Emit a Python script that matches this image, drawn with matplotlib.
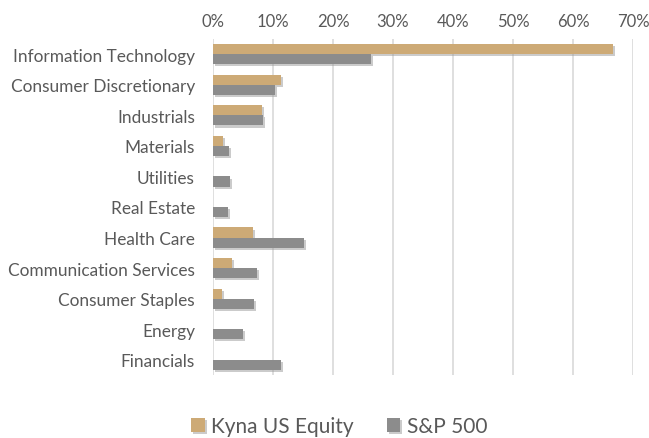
import numpy as np
import matplotlib.pyplot as plt
import matplotlib.patheffects as pe
from matplotlib.ticker import FuncFormatter

plt.rcParams['font.family'] = ['Lato', 'DejaVu Sans']

sectors = ["Information Technology", "Consumer Discretionary", "Industrials",
           "Materials", "Utilities", "Real Estate", "Health Care",
           "Communication Services", "Consumer Staples", "Energy", "Financials"]
kyna = [66.7, 11.4, 8.1, 1.6, 0.0, 0.0, 6.6, 3.2, 1.5, 0.0, 0.0]
sp500 = [26.3, 10.3, 8.3, 2.6, 2.9, 2.5, 15.1, 7.3, 6.9, 5.0, 11.4]

fig = plt.figure(figsize=(6.49, 4.39), dpi=100)
ax = fig.add_axes([213/649, 1-376/439, 420/649, 336/439])

y = np.arange(len(sectors))
h = 0.33
shadow = [pe.SimplePatchShadow(offset=(1.5, -1.5), shadow_rgbFace='#999999', alpha=0.5), pe.Normal()]
b1 = ax.barh(y - h/2, kyna, height=h, color='#CDAA76', label='Kyna US Equity', zorder=3)
b2 = ax.barh(y + h/2, sp500, height=h, color='#8C8C8C', label='S&P 500', zorder=3)
for b in list(b1) + list(b2):
    if b.get_width() > 0:
        b.set_path_effects(shadow)

ax.set_xlim(0, 70)
ax.set_ylim(len(sectors) - 0.5, -0.5)
ax.set_xticks(range(0, 71, 10))
ax.xaxis.set_major_formatter(FuncFormatter(lambda v, p: f"{v:.0f}%"))
ax.xaxis.tick_top()
ax.set_yticks(y)
ax.set_yticklabels(sectors)
ax.tick_params(axis='both', length=0, colors='#595959')
ax.tick_params(axis='x', pad=7, labelsize=12)
ax.tick_params(axis='y', pad=13, labelsize=12.4)
ax.grid(axis='x', color='#D9D9D9', linewidth=1.2, zorder=0)
for s in ax.spines.values():
    s.set_visible(False)

fig.legend(handles=[b1, b2], loc='center', bbox_to_anchor=(339/649, 1-427/439),
           ncol=2, frameon=False, fontsize=15, labelcolor='#595959',
           handlelength=0.65, handleheight=0.65, handletextpad=0.3, columnspacing=1.6)

fig.savefig('out.png', dpi=100)
